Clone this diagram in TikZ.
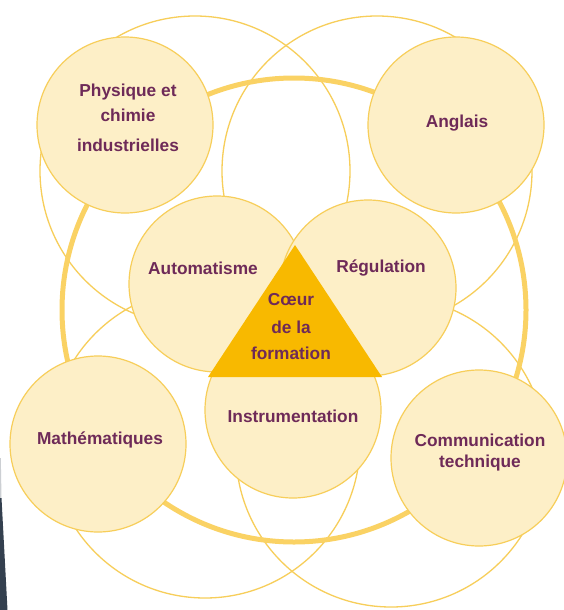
\documentclass[tikz,border=0pt]{standalone}
\usepackage{fontspec}
\setmainfont{Liberation Sans}
\definecolor{cfill}{HTML}{FDEFC7}
\definecolor{cline}{HTML}{F7CE5A}
\definecolor{ringc}{HTML}{FAD264}
\definecolor{tric}{HTML}{F8B900}
\definecolor{txtc}{HTML}{6E2A58}
\definecolor{darkc}{HTML}{34404F}
\tikzset{
  bigring/.style={circle, draw=cline, line width=1.3pt, minimum size=310pt, inner sep=0pt, outer sep=0pt},
  mainring/.style={circle, draw=ringc, line width=5pt, minimum size=464pt, inner sep=0pt, outer sep=0pt},
  topic/.style={circle, draw=cline, fill=cfill, line width=1.2pt, minimum size=176pt, inner sep=0pt, outer sep=0pt},
  lbl/.style={text=txtc, font=\bfseries\fontsize{17.3}{23}\selectfont, align=center, inner sep=0pt},
  coeur/.style={fill=tric},
}
\begin{document}
\begin{tikzpicture}[x=1pt,y=-1pt]
\useasboundingbox (0,0) rectangle (564,610);
\fill[white] (0,0) rectangle (564,610);
\fill[darkc!25] (0,458) -- (0.8,458) -- (1.5,498) -- (0,498) -- cycle;
\fill[darkc] (0,498) -- (1.5,498) -- (7.5,610) -- (0,610) -- cycle;
% large thin circles
\node[bigring] (bTL) at (195,171) {};
\node[bigring] (bTR) at (377,171) {};
\node[bigring] (bBL) at (205,443) {};
\node[bigring] (bBR) at (391,452) {};
% thick ring
\node[mainring] (ring) at (294,310) {};
% topic circles
\node[topic] (phys) at (125,125) {};
\node[topic] (angl) at (456,125) {};
\node[topic] (math) at (98,444) {};
\node[topic] (comm) at (479,458) {};
\node[topic] (instr) at (293,410) {};
\node[topic] (auto) at (217,284) {};
\node[topic] (regu) at (368,288) {};
% core triangle
\coordinate (tA) at (295,245);
\coordinate (tB) at (208,377);
\coordinate (tC) at (382,377);
\fill[coeur] (tA) -- (tB) -- (tC) -- cycle;
% labels
\node[lbl] (physT1) at (128,92) {Physique et};
\node[lbl] (physT2) at (128,115) {chimie};
\node[lbl] (physT3) at (128,145) {industrielles};
\node[lbl] (anglT) at (457,123) {Anglais};
\node[lbl] (autoT) at (203,268) {Automatisme};
\node[lbl] (reguT) at (381,268) {Régulation};
\node[lbl] (coeurT1) at (291,300) {Cœur};
\node[lbl] (coeurT2) at (291,327) {de la};
\node[lbl] (coeurT3) at (291,353) {formation};
\node[lbl] (instrT) at (293,416) {Instrumentation};
\node[lbl] (mathT) at (100,440) {Mathématiques};
\node[lbl] (commT1) at (480,440) {Communication};
\node[lbl] (commT2) at (480,463) {technique};
\end{tikzpicture}
\end{document}
